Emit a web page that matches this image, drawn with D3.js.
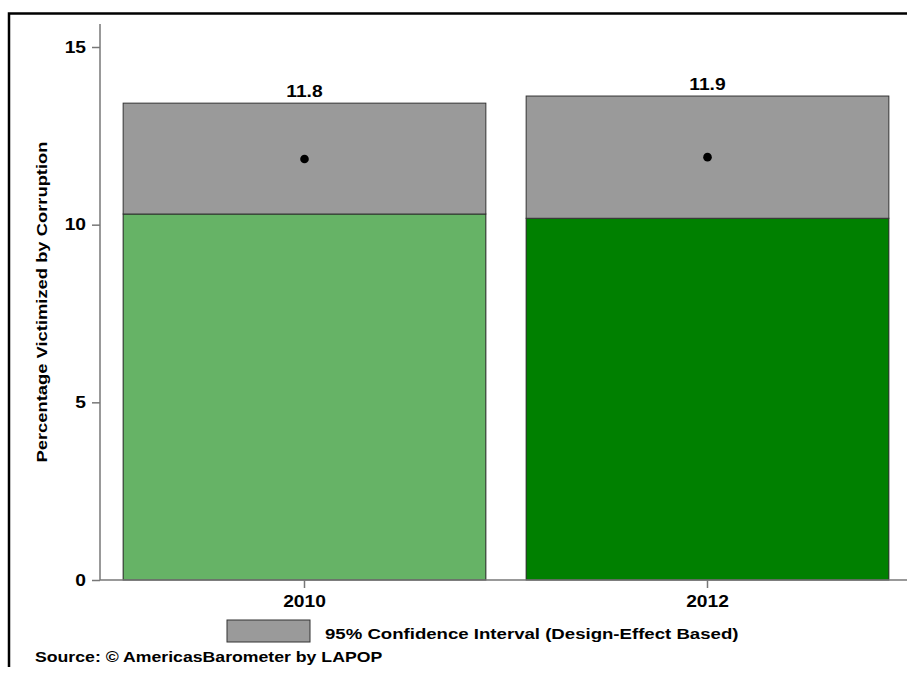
<!DOCTYPE html>
<html><head><meta charset="utf-8">
<script src="https://cdn.jsdelivr.net/npm/d3@7"></script>
<style>body{margin:0;background:#fff}svg{display:block}text{font-family:"Liberation Sans",Arial,sans-serif;font-weight:bold}</style>
</head><body>
<script>
const years = ["2010", "2012"];
const means = [11.85, 11.9];
const meanLabels = ["11.8", "11.9"];
const ciLow = [10.3, 10.18];
const ciHigh = [13.42, 13.62];
const barColors = ["#66b366", "#008000"];
const yTicks = [0, 5, 10, 15];

const W = 907, H = 675;
const svg = d3.select("body").append("svg").attr("width", W).attr("height", H);

// frame (left and top edges visible)
svg.append("path").attr("d", "M9,667V13.5H910").attr("fill", "none").attr("stroke", "#000").attr("stroke-width", 2.5);

const y = d3.scaleLinear().domain([0, 15]).range([580, 47]);
const x = d3.scaleBand().domain(years).range([103, 909]).paddingInner(0.1).paddingOuter(0.05);

const g = svg.append("g");
years.forEach((yr, i) => {
  const bx = x(yr), bw = x.bandwidth();
  g.append("rect").attr("x", bx).attr("y", y(ciLow[i])).attr("width", bw)
    .attr("height", y(0) - y(ciLow[i])).attr("fill", barColors[i]).attr("stroke", "#222").attr("stroke-width", 1);
  g.append("rect").attr("x", bx).attr("y", y(ciHigh[i])).attr("width", bw)
    .attr("height", y(ciLow[i]) - y(ciHigh[i])).attr("fill", "#9a9a9a").attr("stroke", "#333").attr("stroke-width", 1);
  g.append("circle").attr("cx", bx + bw / 2).attr("cy", y(means[i])).attr("r", 4.3).attr("fill", "#000");
  g.append("text").attr("x", bx + bw / 2).attr("y", y(ciHigh[i]) - 6).attr("text-anchor", "middle")
    .attr("font-size", 16).attr("fill", "#000").text(meanLabels[i]);
});

// y axis
const yAxis = svg.append("g").attr("transform", "translate(100,0)")
  .call(d3.axisLeft(y).tickValues(yTicks).tickSize(8).tickPadding(6));
yAxis.select(".domain").attr("d", "M0,24V580").attr("stroke", "#777").attr("stroke-width", 1.5);
yAxis.selectAll(".tick line").attr("stroke", "#777").attr("stroke-width", 1.5);
yAxis.selectAll(".tick text").attr("font-size", 16).attr("fill", "#000").attr("font-family", "Liberation Sans, Arial").attr("font-weight", "bold");

// x axis
const xAxis = svg.append("g").attr("transform", "translate(0,580)")
  .call(d3.axisBottom(x).tickSize(8).tickPadding(8));
xAxis.select(".domain").attr("d", "M100,0H908").attr("stroke", "#777").attr("stroke-width", 1.5);
xAxis.selectAll(".tick line").attr("stroke", "#777").attr("stroke-width", 1.5);
xAxis.selectAll(".tick text").attr("font-size", 16).attr("fill", "#000").attr("font-family", "Liberation Sans, Arial").attr("font-weight", "bold");

// y title
svg.append("text").attr("transform", "translate(47,302) rotate(-90)").attr("text-anchor", "middle")
  .attr("font-size", 15.3).attr("fill", "#000").text("Percentage Victimized by Corruption");

// legend
svg.append("rect").attr("x", 227).attr("y", 620).attr("width", 83).attr("height", 22)
  .attr("fill", "#9a9a9a").attr("stroke", "#333").attr("stroke-width", 1);
svg.append("text").attr("x", 325).attr("y", 639).attr("font-size", 15.5).attr("fill", "#000")
  .text("95% Confidence Interval (Design-Effect Based)");

// source
svg.append("text").attr("class", "src").attr("x", 35).attr("y", 662).attr("font-size", 15.5).attr("fill", "#000")
  .text("Source: © AmericasBarometer by LAPOP");

// widen glyphs horizontally to match the reference's stretched typeface
svg.selectAll("text").each(function () {
  const len = this.getComputedTextLength();
  const k = this.classList.contains("src") ? 1.14 : 1.2;
  d3.select(this).attr("textLength", len * k).attr("lengthAdjust", "spacingAndGlyphs");
});
</script>
</body></html>
